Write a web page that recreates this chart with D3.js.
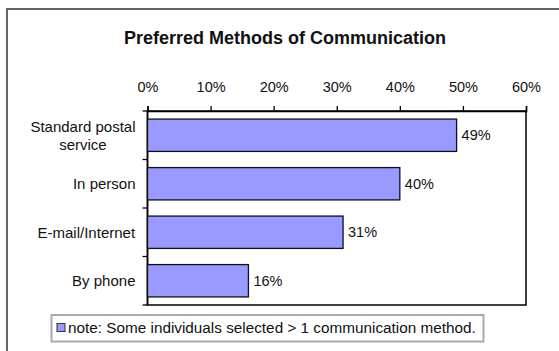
<!DOCTYPE html>
<html>
<head>
<meta charset="utf-8">
<script src="https://cdn.jsdelivr.net/npm/d3@7"></script>
<style>
  html, body { margin: 0; padding: 0; background: #fff; }
  svg { display: block; font-family: "Liberation Sans", Arial, sans-serif; }
</style>
</head>
<body>
<svg id="chart" width="559" height="351"></svg>
<script>
// Survey results: share of respondents preferring each method
const categories = [["Standard postal", "service"], ["In person"], ["E-mail/Internet"], ["By phone"]];
const values = [0.49, 0.40, 0.31, 0.16];
const tickValues = [0, 0.1, 0.2, 0.3, 0.4, 0.5, 0.6];
const title = "Preferred Methods of Communication";
const legendText = "note: Some individuals selected > 1 communication method.";

const barFill = "#9999ff";
const svg = d3.select("#chart");

// outer chart frame
svg.append("rect")
  .attr("x", 7).attr("y", 9).attr("width", 570).attr("height", 360)
  .attr("fill", "#fff").attr("stroke", "#666").attr("stroke-width", 2);

// title
svg.append("text")
  .attr("x", 285).attr("y", 44)
  .attr("text-anchor", "middle")
  .attr("font-size", 18).attr("font-weight", "bold").attr("fill", "#111")
  .text(title);

const plot = { left: 147.5, right: 526, top: 111, bottom: 305 };

const x = d3.scaleLinear().domain([0, 0.6]).range([plot.left, plot.right]);
const keys = categories.map(c => c.join(" "));
const y = d3.scaleBand().domain(keys).range([plot.top, plot.bottom])
  .paddingInner(1 / 3).paddingOuter(1 / 6);

// plot area border (right and bottom edges)
svg.append("rect")
  .attr("x", plot.left).attr("y", plot.top)
  .attr("width", plot.right - plot.left).attr("height", plot.bottom - plot.top)
  .attr("fill", "none").attr("stroke", "#000").attr("stroke-width", 1.5);

// top percentage axis
const xAxis = svg.append("g")
  .attr("transform", `translate(0,${plot.top})`)
  .call(d3.axisTop(x).tickValues(tickValues).tickFormat(d3.format(".0%"))
    .tickSize(5).tickSizeOuter(5).tickPadding(14));
xAxis.select(".domain").attr("stroke", "#000").attr("stroke-width", 1.5);
xAxis.selectAll(".tick line").attr("stroke", "#000").attr("stroke-width", 1.3);
xAxis.selectAll("text").attr("font-size", 14.5).attr("fill", "#111")
  .attr("font-family", "Liberation Sans, Arial, sans-serif");

// category axis: ticks sit on band boundaries, labels on band centres
const step = y.step();
const boundaries = d3.range(keys.length + 1).map(i => plot.top + i * step);
svg.append("line")
  .attr("x1", plot.left).attr("x2", plot.left)
  .attr("y1", plot.top).attr("y2", plot.bottom)
  .attr("stroke", "#000").attr("stroke-width", 1.5);
svg.selectAll(".ytick").data(boundaries).join("line")
  .attr("class", "ytick")
  .attr("x1", plot.left - 5).attr("x2", plot.left)
  .attr("y1", d => d).attr("y2", d => d)
  .attr("stroke", "#000").attr("stroke-width", 1.3);

const lineH = 18;
svg.selectAll(".ylabel").data(categories).join("text")
  .attr("class", "ylabel")
  .attr("text-anchor", "middle")
  .attr("font-size", 15).attr("fill", "#111")
  .each(function (lines, i) {
    const cy = y(keys[i]) + y.bandwidth() / 2;
    const t = d3.select(this);
    const startY = cy - (lines.length - 1) * lineH / 2;
    lines.forEach((ln, j) => {
      t.append("tspan")
        .attr("x", 0).attr("y", startY + j * lineH).attr("dy", "0.35em")
        .text(ln);
    });
  });
// lines of a label are centred on each other and the block is right-aligned to the axis
svg.selectAll(".ylabel").each(function () {
  const w = this.getBBox().width;
  d3.select(this).selectAll("tspan").attr("x", plot.left - 12 - w / 2);
});

// bars
svg.selectAll(".bar").data(values).join("rect")
  .attr("class", "bar")
  .attr("x", x(0))
  .attr("y", (d, i) => y(keys[i]))
  .attr("width", d => x(d) - x(0))
  .attr("height", y.bandwidth())
  .attr("fill", barFill).attr("stroke", "#111").attr("stroke-width", 1.3);

// value labels
svg.selectAll(".val").data(values).join("text")
  .attr("class", "val")
  .attr("x", d => x(d) + 5)
  .attr("y", (d, i) => y(keys[i]) + y.bandwidth() / 2)
  .attr("dy", "0.35em")
  .attr("font-size", 14.5).attr("fill", "#111")
  .text(d => d3.format(".0%")(d));

// legend box
const lg = svg.append("g");
lg.append("rect")
  .attr("x", 51.5).attr("y", 315).attr("width", 432).attr("height", 26.5)
  .attr("fill", "#fff").attr("stroke", "#aaa").attr("stroke-width", 2);
lg.append("rect")
  .attr("x", 57).attr("y", 323.5).attr("width", 8).attr("height", 8)
  .attr("fill", barFill).attr("stroke", "#333").attr("stroke-width", 1);
lg.append("text")
  .attr("x", 68).attr("y", 328).attr("dy", "0.35em")
  .attr("font-size", 15.3).attr("fill", "#111")
  .text(legendText);
</script>
</body>
</html>
